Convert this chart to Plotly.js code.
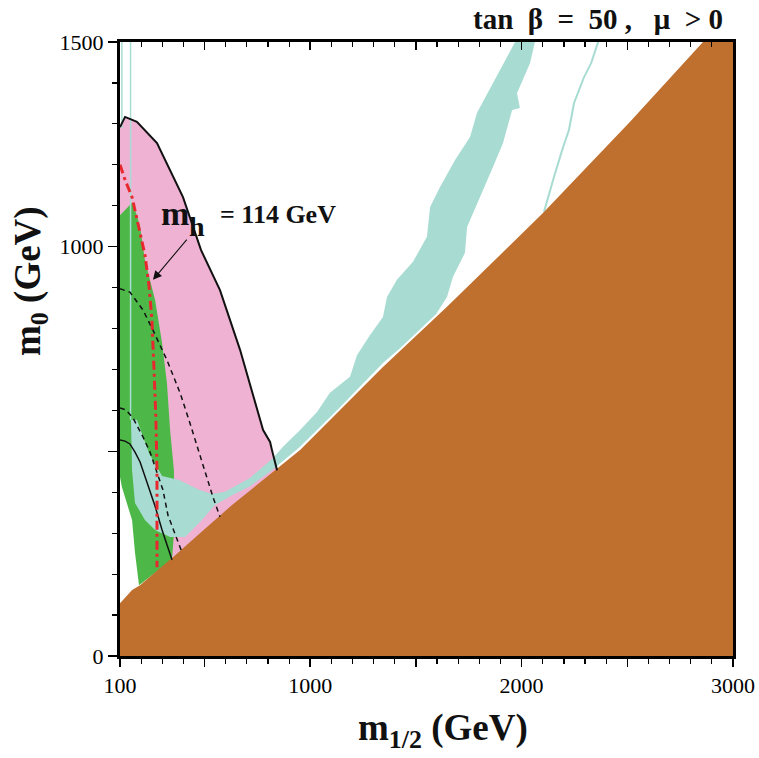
<!DOCTYPE html>
<html>
<head>
<meta charset="utf-8">
<script src="https://cdn.plot.ly/plotly-3.0.1.min.js"></script>
<style>html,body{margin:0;padding:0;background:#fff;}#plot{width:759px;height:758px;}</style>
</head>
<body>
<div id="plot"></div>
<script>
// ---- data (m_1/2 [GeV], m_0 [GeV]) ----
// charged (stau) LSP excluded region boundary
const brownX = [100, 100, 124, 157, 195, 351, 630, 833, 952, 1344, 1647, 2101, 2513, 2858, 3000, 3000];
const brownY = [0, 129, 142, 161, 173, 242, 369, 454, 503, 706, 853, 1082, 1305, 1500, 1500, 0];

// g-2 favoured (pink) region
const pinkX = [100, 124, 180, 275, 398, 483, 573, 668, 777, 810, 819, 843, 630, 351, 242, 100];
const pinkY = [1292, 1317, 1305, 1253, 1121, 992, 894, 748, 552, 523, 503, 454, 364, 242, 271, 454];
// its black outline
const pinkEdgeX = [100, 124, 180, 275, 398, 483, 573, 668, 777, 810, 819, 843];
const pinkEdgeY = [1292, 1317, 1305, 1253, 1121, 992, 894, 748, 552, 523, 503, 454];

// b -> s gamma excluded (green) region
const greenX = [100, 109, 157, 180, 195, 218, 266, 299, 322, 337, 355, 360, 346, 190, 171, 157, 138, 109, 100];
const greenY = [1077, 1082, 1107, 1077, 1048, 967, 870, 765, 667, 552, 454, 332, 235, 173, 252, 332, 364, 413, 437];

// relic density (teal) region: bulk + coannihilation strip + funnel
const tealX = [152, 180, 237, 299, 379, 474, 535, 597, 715, 824, 871, 952, 1032, 1093, 1188, 1221, 1283, 1344, 1363, 1410, 1486, 1552, 1567, 1614, 1685, 1756, 1789, 1865, 1921, 1969,
  2063, 2040, 1978, 1992, 1955, 1912, 1865, 1803, 1742, 1732, 1675, 1647, 1609, 1595, 1425, 1344, 1141, 952, 843, 810, 715, 630, 549, 478, 408, 337, 266, 218, 171, 157];
const tealY = [577, 577, 496, 440, 430, 406, 396, 401, 435, 484, 511, 552, 596, 643, 682, 735, 784, 828, 877, 919, 963, 1024, 1097, 1146, 1212, 1268, 1327, 1400, 1451, 1500,
  1500, 1449, 1375, 1339, 1334, 1253, 1195, 1121, 1048, 985, 926, 877, 845, 835, 752, 716, 608, 511, 464, 450, 415, 393, 369, 327, 291, 291, 308, 332, 374, 454];
// second thin relic density strip
const teal2X = [2357, 2324, 2290, 2243, 2219, 2191, 2148, 2120, 2101, 2111, 2130, 2158, 2201, 2229, 2253, 2300, 2334, 2367];
const teal2Y = [1500, 1449, 1414, 1351, 1285, 1243, 1170, 1121, 1085, 1085, 1121, 1170, 1243, 1285, 1351, 1414, 1449, 1500];
// very thin vertical relic strips at low m_1/2
const thin1X = [109, 109];
const thin1Y = [1500, 1290];
const thin2X = [150, 150];
const thin2Y = [1500, 577];

// chargino / selectron contours
const dash1X = [100, 147, 209, 256, 322, 384, 426, 445, 512, 540, 573];
const dash1Y = [897, 889, 845, 796, 723, 643, 577, 545, 437, 388, 340];
const dash2X = [100, 128, 162, 209, 242, 280, 303, 327, 360, 389];
const dash2Y = [606, 601, 581, 535, 498, 442, 406, 344, 296, 259];
const solidX = [100, 124, 147, 171, 195, 218, 242, 266, 299, 327, 346];
const solidY = [528, 525, 518, 498, 474, 440, 406, 366, 308, 264, 235];
// m_h = 114 GeV contour
const higgsX = [100, 124, 157, 190, 218, 237, 251, 261, 270, 275, 275];
const higgsY = [1200, 1163, 1121, 1048, 980, 906, 821, 699, 577, 454, 217];

// axis ticks
const xTickVals = [100, 500, 1000, 1500, 2000, 2500, 3000];
const xTickText = ['100', ' ', '1000', ' ', '2000', ' ', '3000'];
const yTickVals = [0, 500, 1000, 1500];
const yTickText = ['0', ' ', '1000', '1500'];

const PINK = '#efb2d3', GREEN = '#4db848', TEAL = '#a8dcd2', BROWN = '#bf6f2e';

function area(x, y, color) {
  return {x: x, y: y, type: 'scatter', mode: 'lines', fill: 'toself', fillcolor: color,
          line: {width: 0, color: color}, hoverinfo: 'skip', showlegend: false};
}
function line(x, y, color, width, dash) {
  return {x: x, y: y, type: 'scatter', mode: 'lines', line: {color: color, width: width, dash: dash || 'solid'},
          hoverinfo: 'skip', showlegend: false};
}

const traces = [
  area(pinkX, pinkY, PINK),
  area(greenX, greenY, GREEN),
  line(thin1X, thin1Y, TEAL, 1.5),
  line(thin2X, thin2Y, TEAL, 1.5),
  area(tealX, tealY, TEAL),
  area(teal2X, teal2Y, TEAL),
  area(brownX, brownY, BROWN),
  line(pinkEdgeX, pinkEdgeY, '#111', 2),
  line(dash1X, dash1Y, '#111', 1.5, '5px,4px'),
  line(dash2X, dash2Y, '#111', 1.5, '5px,4px'),
  line(solidX, solidY, '#111', 1.5),
  line(higgsX, higgsY, '#e8282e', 3, '9px,4px,3px,4px'),
  {x: [100], y: [0], xaxis: 'x2', type: 'scatter', mode: 'markers', marker: {opacity: 0}, hoverinfo: 'skip', showlegend: false}
];

const serif = 'Liberation Serif, Times New Roman, serif';
const NB = '\u00a0';
const layout = {
  width: 759, height: 758,
  margin: {l: 120, r: 26, t: 42, b: 102},
  paper_bgcolor: '#fff', plot_bgcolor: '#fff',
  showlegend: false,
  xaxis: {
    range: [100, 3000], tickmode: 'array', tickvals: xTickVals, ticktext: xTickText,
    ticks: 'outside', ticklen: 8, tickwidth: 1.5, tickcolor: '#000',
    minor: {dtick: 100, tick0: 100, ticks: 'outside', ticklen: 5, tickwidth: 1.2, tickcolor: '#000', showgrid: false},
    showline: true, linewidth: 3, linecolor: '#000', mirror: true,
    showgrid: false, zeroline: false,
    tickfont: {family: serif, size: 22, color: '#000'}
  },
  xaxis2: {
    overlaying: 'x', side: 'top', range: [100, 3000], tickmode: 'array', tickvals: xTickVals,
    ticks: 'inside', ticklen: 8, tickwidth: 1.5, tickcolor: '#000', showticklabels: false,
    minor: {dtick: 100, tick0: 100, ticks: 'inside', ticklen: 5, tickwidth: 1.2, tickcolor: '#000', showgrid: false},
    showline: false, showgrid: false, zeroline: false
  },
  yaxis: {
    range: [0, 1500], tickmode: 'array', tickvals: yTickVals, ticktext: yTickText,
    ticks: 'outside', ticklen: 9, tickwidth: 1.5, tickcolor: '#000',
    minor: {dtick: 100, tick0: 0, ticks: 'outside', ticklen: 5, tickwidth: 1.2, tickcolor: '#000', showgrid: false},
    showline: true, linewidth: 3, linecolor: '#000', mirror: true,
    showgrid: false, zeroline: false,
    tickfont: {family: serif, size: 22, color: '#000'}
  },
  annotations: [
    {text: '<b>tan' + NB + NB + 'β' + NB + NB + '=' + NB + NB + '50' + NB + ',' + NB + NB + NB + 'μ' + NB + NB + '>' + NB + '0</b>',
     xref: 'paper', yref: 'paper', x: 0.987, y: 1.037,
     xanchor: 'right', yanchor: 'middle', showarrow: false, font: {family: serif, size: 29, color: '#111'}},
    {text: '<b>m<sub>1/2</sub> (GeV)</b>', xref: 'paper', yref: 'paper', x: 0.527, y: -0.122,
     xanchor: 'center', yanchor: 'middle', showarrow: false, font: {family: serif, size: 37, color: '#111'}},
    {text: '<b>m<sub>0</sub> (GeV)</b>', xref: 'paper', yref: 'paper', x: -0.145, y: 0.611, textangle: -90,
     xanchor: 'center', yanchor: 'middle', showarrow: false, font: {family: serif, size: 37, color: '#111'}},
    {text: '<b>m</b>', xref: 'x', yref: 'y', x: 360, y: 1082, xanchor: 'center', yanchor: 'middle',
     showarrow: false, font: {family: serif, size: 34, color: '#111'}},
    {text: '<b>h</b>', xref: 'x', yref: 'y', x: 462, y: 1050, xanchor: 'center', yanchor: 'middle',
     showarrow: false, font: {family: serif, size: 28, color: '#111'}},
    {text: '<b>= 114 GeV</b>', xref: 'x', yref: 'y', x: 565, y: 1078, xanchor: 'left', yanchor: 'middle',
     showarrow: false, font: {family: serif, size: 26, color: '#111'}},
    {text: '', xref: 'x', yref: 'y', x: 256, y: 919, axref: 'x', ayref: 'y', ax: 422, ay: 1021,
     showarrow: true, arrowhead: 2, arrowsize: 1.6, arrowwidth: 1.1, arrowcolor: '#111'}
  ]
};

Plotly.newPlot('plot', traces, layout, {staticPlot: true, displayModeBar: false});
</script>
</body>
</html>
